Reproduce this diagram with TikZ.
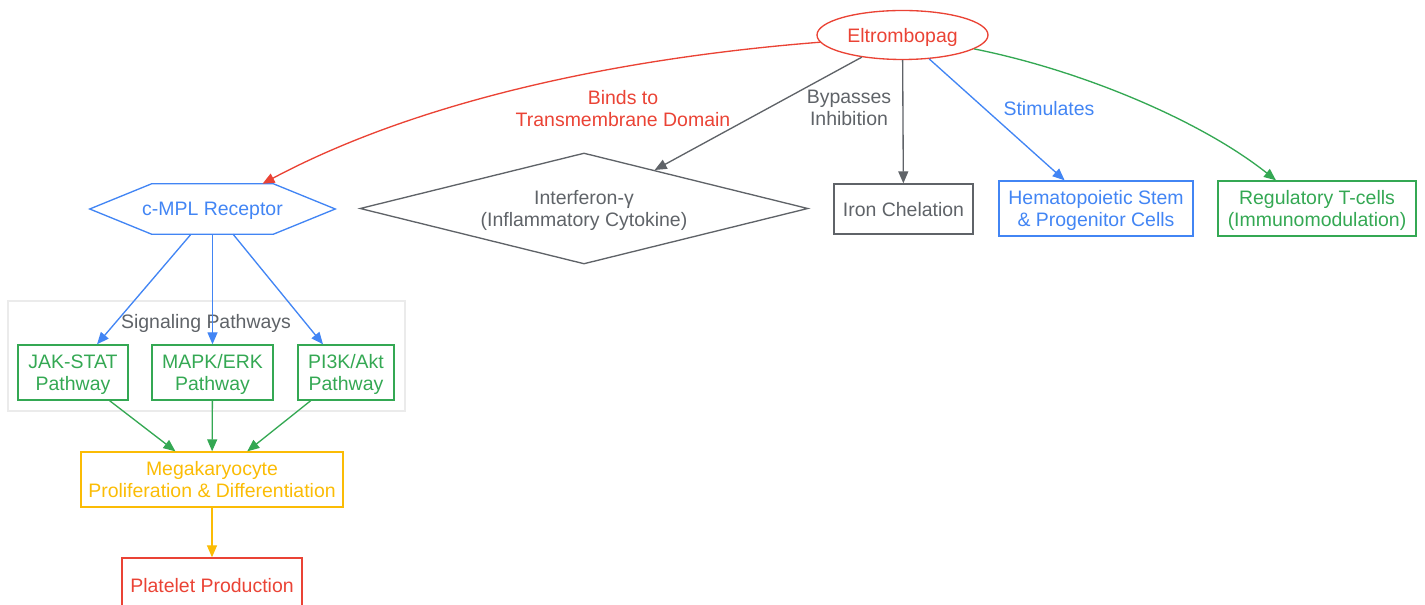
\documentclass[tikz,border=0pt]{standalone}
\usepackage{fontspec}
\setmainfont{Liberation Sans}
\usetikzlibrary{arrows.meta,shapes.geometric}
\definecolor{cred}{HTML}{EA4335}
\definecolor{cblue}{HTML}{4285F4}
\definecolor{cgreen}{HTML}{34A853}
\definecolor{cyellow}{HTML}{FBBC05}
\definecolor{cgray}{HTML}{5F6368}
\definecolor{clgray}{HTML}{EBEBEB}
\begin{document}
\begin{tikzpicture}[x=0.75pt,y=-0.75pt,
  font=\fontsize{14.6}{16.5}\selectfont,
  every node/.style={align=center, text depth=0pt},
  box/.style={draw, rectangle, line width=1pt, inner sep=0pt},
  arr/.style={line width=1pt, -{Triangle[length=9pt,width=7.5pt]}},
  lbl/.style={inner sep=0pt}]
\clip (0,0) rectangle (1425,605);
\useasboundingbox (0,0) rectangle (1425,605);
% cluster
\node[draw=clgray, line width=1pt, minimum width=297.75pt, minimum height=82.5pt, inner sep=0pt] (cluster) at (206.5,356) {};
\node[text=cgray, lbl] (cltitle) at (206,321) {Signaling Pathways};
% nodes
\node[ellipse, draw=cred, text=cred, line width=1pt, minimum width=128.25pt, minimum height=36.75pt, inner sep=0pt] (elt) at (902.5,35) {Eltrombopag};
\node[rectangle, text=cblue, minimum width=183.75pt, minimum height=37.5pt, inner sep=0pt] (cmpl) at (212.5,209) {c-MPL Receptor};
\draw[cblue, line width=1pt] (cmpl.west) -- ([xshift=46.5pt]cmpl.north west) -- ([xshift=-46.5pt]cmpl.north east) -- (cmpl.east) -- ([xshift=-46.5pt]cmpl.south east) -- ([xshift=46.5pt]cmpl.south west) -- cycle;
\node[diamond, aspect=4.04, draw=cgray, text=cgray, line width=1pt, minimum width=336pt, minimum height=83.25pt, inner sep=0pt] (ifn) at (584,208.5) {Interferon-γ\\(Inflammatory Cytokine)};
\node[box, draw=cgray, text=cgray, minimum width=104.25pt, minimum height=37.5pt] (iron) at (903.5,209) {Iron Chelation};
\node[box, draw=cblue, text=cblue, minimum width=145.5pt, minimum height=41.25pt] (hsc) at (1096,208.5) {Hematopoietic Stem\\\& Progenitor Cells};
\node[box, draw=cgreen, text=cgreen, minimum width=148.5pt, minimum height=41.25pt] (treg) at (1317,208.5) {Regulatory T-cells\\(Immunomodulation)};
\node[box, draw=cgreen, text=cgreen, minimum width=82.5pt, minimum height=41.25pt] (jak) at (73,372.5) {JAK-STAT\\Pathway};
\node[box, draw=cgreen, text=cgreen, minimum width=90.75pt, minimum height=41.25pt] (mapk) at (212.5,372.5) {MAPK/ERK\\Pathway};
\node[box, draw=cgreen, text=cgreen, minimum width=72pt, minimum height=41.25pt] (pi3k) at (346,372.5) {PI3K/Akt\\Pathway};
\node[box, draw=cyellow, text=cyellow, minimum width=196.5pt, minimum height=41.25pt] (mega) at (212,479.5) {Megakaryocyte\\Proliferation \& Differentiation};
\node[box, draw=cred, text=cred, minimum width=135pt, minimum height=40.5pt] (plt) at (212,585) {Platelet Production};
% edges from Eltrombopag
\draw[arr, cred] (elt.185) .. controls (620,58) and (420,100) .. ([xshift=37.5pt]cmpl.north);
\node[lbl, text=cred] (lbind) at (623,108) {Binds to\\Transmembrane Domain};
\draw[arr, cgray] (elt) -- (ifn);
\node[lbl, text=cgray] (lbyp) at (849,108) {Bypasses\\Inhibition};
\draw[arr, cgray] (elt) -- (iron);
\draw[arr, cblue] (elt) -- (hsc);
\node[lbl, text=cblue] (lstim) at (1049,108) {Stimulates};
\draw[arr, cgreen] (elt.349) .. controls (1080,70) and (1200,120) .. ([xshift=-30.75pt]treg.north);
% receptor to pathways
\draw[arr, cblue] (cmpl) -- (jak);
\draw[arr, cblue] (cmpl) -- (mapk);
\draw[arr, cblue] (cmpl) -- (pi3k);
% pathways to megakaryocyte
\draw[arr, cgreen] (jak) -- (mega);
\draw[arr, cgreen] (mapk) -- (mega);
\draw[arr, cgreen] (pi3k) -- (mega);
\draw[arr, cyellow] (mega) -- (plt);
\end{tikzpicture}
\end{document}
